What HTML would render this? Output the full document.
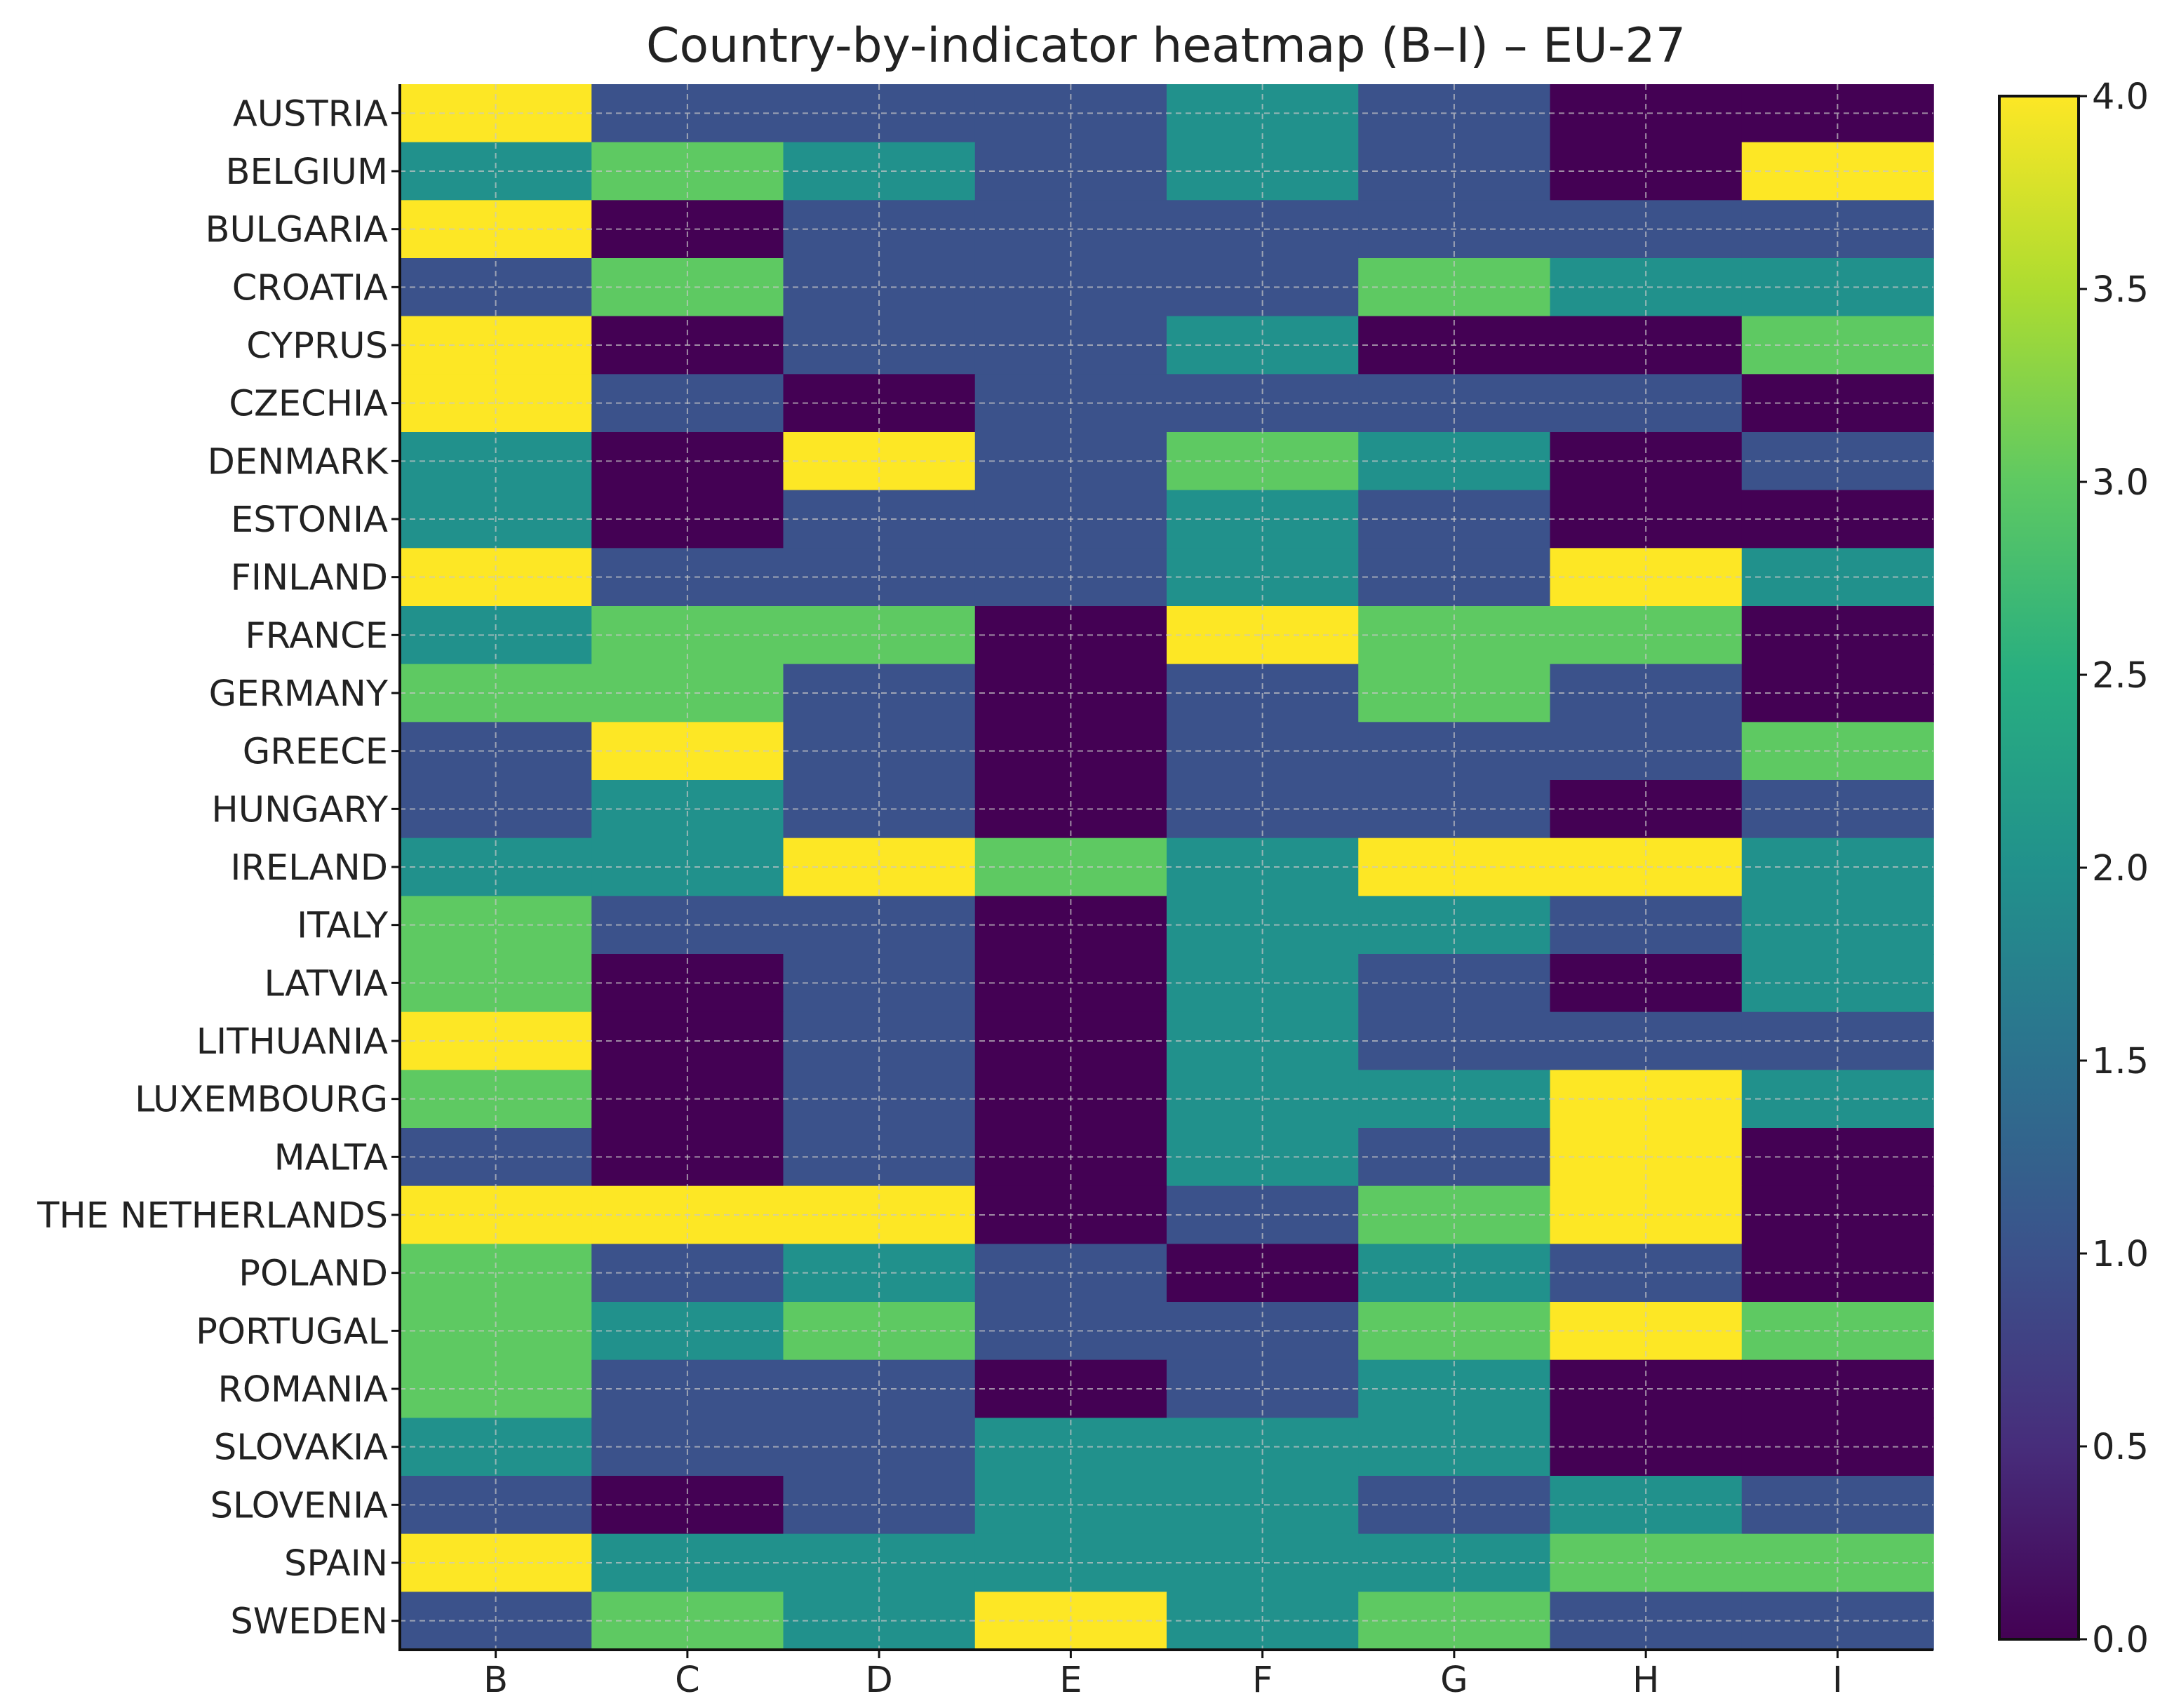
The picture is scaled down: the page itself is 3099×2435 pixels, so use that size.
<!DOCTYPE html>
<html><head><meta charset="utf-8"><style>
html,body{margin:0;padding:0;background:#fff;}
svg{display:block;font-family:"DejaVu Sans","Liberation Sans",sans-serif;}
</style></head><body>
<svg id="chart" width="3099" height="2435" viewBox="0 0 3099 2435" xmlns="http://www.w3.org/2000/svg">
<defs>
<linearGradient id="viridis" x1="0" y1="1" x2="0" y2="0">
<stop offset="0" stop-color="#440154"/><stop offset="0.125" stop-color="#472d7b"/><stop offset="0.25" stop-color="#3b528b"/><stop offset="0.375" stop-color="#2c728e"/><stop offset="0.5" stop-color="#21918c"/><stop offset="0.625" stop-color="#28ae80"/><stop offset="0.75" stop-color="#5ec962"/><stop offset="0.875" stop-color="#addc30"/><stop offset="1" stop-color="#fde725"/>
</linearGradient>
</defs>
<text x="1662" y="88" text-anchor="middle" font-size="68" fill="#222">Country-by-indicator heatmap (B–I) – EU-27</text>
<g id="cells"></g><g id="grid"></g><g id="axes"></g>
<rect x="2850" y="137" width="113" height="2200" fill="url(#viridis)" stroke="#111" stroke-width="4"/>
<g id="cbticks"></g>
</svg>
<script>
const countries=["AUSTRIA","BELGIUM","BULGARIA","CROATIA","CYPRUS","CZECHIA","DENMARK","ESTONIA","FINLAND","FRANCE","GERMANY","GREECE","HUNGARY","IRELAND","ITALY","LATVIA","LITHUANIA","LUXEMBOURG","MALTA","THE NETHERLANDS","POLAND","PORTUGAL","ROMANIA","SLOVAKIA","SLOVENIA","SPAIN","SWEDEN"];
const indicators=["B","C","D","E","F","G","H","I"];
const values=[
[4,1,1,1,2,1,0,0],[2,3,2,1,2,1,0,4],[4,0,1,1,1,1,1,1],[1,3,1,1,1,3,2,2],[4,0,1,1,2,0,0,3],
[4,1,0,1,1,1,1,0],[2,0,4,1,3,2,0,1],[2,0,1,1,2,1,0,0],[4,1,1,1,2,1,4,2],[2,3,3,0,4,3,3,0],
[3,3,1,0,1,3,1,0],[1,4,1,0,1,1,1,3],[1,2,1,0,1,1,0,1],[2,2,4,3,2,4,4,2],[3,1,1,0,2,2,1,2],
[3,0,1,0,2,1,0,2],[4,0,1,0,2,1,1,1],[3,0,1,0,2,2,4,2],[1,0,1,0,2,1,4,0],[4,4,4,0,1,3,4,0],
[3,1,2,1,0,2,1,0],[3,2,3,1,1,3,4,3],[3,1,1,0,1,2,0,0],[2,1,1,2,2,2,0,0],[1,0,1,2,2,1,2,1],
[4,2,2,2,2,2,3,3],[1,3,2,4,2,3,1,1]];
const cbTicks=[0,0.5,1,1.5,2,2.5,3,3.5,4];
const NS="http://www.w3.org/2000/svg";
const L=570,R=2756,T=120,B=2352,vmin=0,vmax=4,CT=137,CB=2337;
const cw=(R-L)/indicators.length, rh=(B-T)/countries.length;
const xPos=i=>L+i*cw, yPos=j=>T+j*rh, cbY=v=>CB-(v-vmin)/(vmax-vmin)*(CB-CT);
const stops=[[0,"#440154"],[0.125,"#472d7b"],[0.25,"#3b528b"],[0.375,"#2c728e"],[0.5,"#21918c"],[0.625,"#28ae80"],[0.75,"#5ec962"],[0.875,"#addc30"],[1,"#fde725"]];
function color(v){let t=Math.max(0,Math.min(1,(v-vmin)/(vmax-vmin)));for(let k=1;k<stops.length;k++){if(t<=stops[k][0]){const a=stops[k-1],b=stops[k],f=(t-a[0])/(b[0]-a[0]);const p=s=>[1,3,5].map(o=>parseInt(s.substr(o,2),16));const ca=p(a[1]),cb=p(b[1]);return "rgb("+ca.map((c,i)=>Math.round(c+(cb[i]-c)*f)).join(",")+")";}}return stops[8][1];}
function el(tag,attrs,parent){const e=document.createElementNS(NS,tag);for(const k in attrs)e.setAttribute(k,attrs[k]);parent.appendChild(e);return e;}
const cells=document.getElementById("cells"),grid=document.getElementById("grid"),axes=document.getElementById("axes"),cbt=document.getElementById("cbticks");
values.forEach((row,j)=>row.forEach((v,i)=>{
 const r=el("rect",{x:xPos(i),y:yPos(j),width:cw+0.8,height:rh+0.8,fill:color(v)},cells);
 
 
}));
indicators.forEach((c,i)=>{
 const x=xPos(i)+cw/2;
 const g=el("line",{x1:x,x2:x,y1:T,y2:B,stroke:"#c8c8c8","stroke-width":2,"stroke-dasharray":"8,6",opacity:0.7},grid);
 
 
 el("line",{x1:x,x2:x,y1:B,y2:B+12,stroke:"#111","stroke-width":3},axes);
 const t=el("text",{x:x,y:2412,"text-anchor":"middle","font-size":51,fill:"#222"},axes);t.textContent=c;
 
 
});
countries.forEach((c,j)=>{
 const y=yPos(j)+rh/2;
 const g=el("line",{x1:L,x2:R,y1:y,y2:y,stroke:"#c8c8c8","stroke-width":2,"stroke-dasharray":"8,6",opacity:0.7},grid);
 
 
 el("line",{x1:L-12,x2:L,y1:y,y2:y,stroke:"#111","stroke-width":3},axes);
 const t=el("text",{x:553,y:y+18,"text-anchor":"end","font-size":51,fill:"#222"},axes);t.textContent=c;
 
 
});
el("line",{x1:L,x2:L,y1:T,y2:B+2,stroke:"#111","stroke-width":4},axes);
el("line",{x1:L-2,x2:R,y1:B,y2:B,stroke:"#111","stroke-width":4},axes);
cbTicks.forEach(v=>{
 const y=cbY(v);
 el("line",{x1:2963,x2:2975,y1:y,y2:y,stroke:"#111","stroke-width":3},cbt);
 const t=el("text",{x:2982,y:y+18,"font-size":51,fill:"#222"},cbt);t.textContent=v.toFixed(1);
 
 
});
</script>
</body></html>
